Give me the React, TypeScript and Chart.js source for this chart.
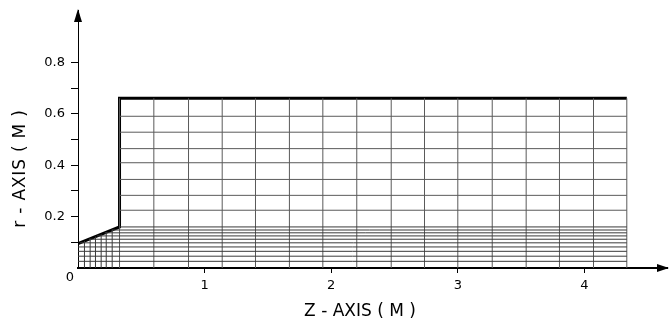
import React, { useEffect, useRef } from 'react';
import { Chart, registerables } from 'chart.js';

Chart.register(...registerables);

// Mesh node positions (metres)
const zInletNodes = [0.051, 0.096, 0.138, 0.183, 0.223, 0.27];
const zMainNodes = [0.328, 0.599, 0.873, 1.139, 1.402, 1.67, 1.934, 2.202, 2.474, 2.737, 3.0, 3.272, 3.54, 3.803, 4.072, 4.335];
const rLowerNodes = [0.026, 0.046, 0.065, 0.082, 0.098, 0.112, 0.125, 0.137, 0.148, 0.16];
const rUpperNodes = [0.225, 0.283, 0.345, 0.41, 0.465, 0.529, 0.591];
// Outer (thick) boundary
const boundaryZ = [0, 0.328, 0.328, 4.335];
const boundaryR = [0.095, 0.16, 0.661, 0.661];
// Axes
const xTickValues = [1, 2, 3, 4];
const yTickValues = [0.1, 0.2, 0.3, 0.4, 0.5, 0.6, 0.7, 0.8];
const yTickLabels = ['0.2', '0.4', '0.6', '0.8'];
const xTitle = 'Z - AXIS ( M )';
const yTitle = 'r - AXIS ( M )';
const originLabel = '0';

const FONT = "'DejaVu Sans', sans-serif";

export default function App() {
  const ref = useRef<HTMLCanvasElement>(null);

  useEffect(() => {
    const canvas = ref.current;
    if (!canvas) return;

    const slantR = (z: number) =>
      boundaryR[0] + ((boundaryR[1] - boundaryR[0]) * (z - boundaryZ[0])) / (boundaryZ[1] - boundaryZ[0]);
    const slantZ = (r: number) =>
      boundaryZ[0] + ((r - boundaryR[0]) / (boundaryR[1] - boundaryR[0])) * (boundaryZ[1] - boundaryZ[0]);
    const zEnd = zMainNodes[zMainNodes.length - 1];
    const rTop = boundaryR[boundaryR.length - 1];

    const datasets: any[] = [];
    const seg = (pts: { x: number; y: number }[], color: string, width: number) =>
      datasets.push({
        data: pts,
        borderColor: color,
        borderWidth: width,
        pointRadius: 0,
        showLine: true,
        fill: false,
        tension: 0,
      });

    rLowerNodes.forEach((r) =>
      seg([{ x: r <= boundaryR[0] ? 0 : slantZ(r), y: r }, { x: zEnd, y: r }], '#3a3a3a', 1)
    );
    rUpperNodes.forEach((r) => seg([{ x: boundaryZ[1], y: r }, { x: zEnd, y: r }], '#5a5a5a', 1));
    zInletNodes.forEach((z) => seg([{ x: z, y: 0 }, { x: z, y: slantR(z) }], '#3a3a3a', 1));
    zMainNodes.forEach((z) => seg([{ x: z, y: 0 }, { x: z, y: rTop }], '#5a5a5a', 1));
    seg(boundaryZ.map((z, i) => ({ x: z, y: boundaryR[i] })), '#000', 3);

    const decor = {
      id: 'decor',
      afterDraw(chart: any) {
        const ctx = chart.ctx;
        const xs = chart.scales.x;
        const ys = chart.scales.y;
        const x0 = xs.getPixelForValue(0);
        const y0 = ys.getPixelForValue(0);
        const top = chart.chartArea.top;
        const right = chart.chartArea.right;
        ctx.save();
        ctx.strokeStyle = '#000';
        ctx.fillStyle = '#000';
        // x axis extension + arrow
        ctx.lineWidth = 2;
        ctx.beginPath();
        ctx.moveTo(right, y0);
        ctx.lineTo(668, y0);
        ctx.stroke();
        ctx.beginPath();
        ctx.moveTo(669, y0);
        ctx.lineTo(657, y0 - 4);
        ctx.lineTo(657, y0 + 4);
        ctx.closePath();
        ctx.fill();
        // y axis arrow
        ctx.beginPath();
        ctx.moveTo(x0, top - 1);
        ctx.lineTo(x0 - 4, top + 12);
        ctx.lineTo(x0 + 4, top + 12);
        ctx.closePath();
        ctx.fill();
        // titles
        ctx.textAlign = 'center';
        ctx.textBaseline = 'middle';
        ctx.font = `17px ${FONT}`;
        ctx.fillText(xTitle, 360, 311.5);
        ctx.save();
        ctx.translate(21, 168.5);
        ctx.rotate(-Math.PI / 2);
        ctx.font = `17px ${FONT}`;
        try {
          (ctx as any).letterSpacing = '0.8px';
        } catch (e) {}
        ctx.fillText(yTitle, 0, 0);
        ctx.restore();
        ctx.font = `13px ${FONT}`;
        ctx.fillText(originLabel, x0 - 8, y0 + 10);
        ctx.restore();
      },
    };

    const chart = new Chart(canvas, {
      type: 'scatter',
      data: { datasets },
      options: {
        animation: false,
        responsive: false,
        devicePixelRatio: 1,
        layout: { padding: { top: 10, left: 0, right: 30, bottom: 0 } },
        plugins: { legend: { display: false }, tooltip: { enabled: false } },
        scales: {
          x: {
            type: 'linear',
            min: 0,
            max: 4.455,
            afterBuildTicks: (s: any) => {
              s.ticks = xTickValues.map((v) => ({ value: v }));
            },
            afterFit: (s: any) => {
              s.height = 52;
              s.paddingLeft = 0;
              s.paddingRight = 0;
            },
            grid: { drawOnChartArea: false, drawTicks: true, tickLength: 5, color: '#000', tickWidth: 1 },
            border: { display: true, color: '#000', width: 2 },
            ticks: {
              color: '#000',
              padding: 5,
              maxRotation: 0,
              autoSkip: false,
              font: { family: FONT, size: 13 },
              callback: (v: any) => String(v),
            },
          },
          y: {
            type: 'linear',
            min: 0,
            max: 1.005,
            afterBuildTicks: (s: any) => {
              s.ticks = yTickValues.map((v) => ({ value: v }));
            },
            afterFit: (s: any) => {
              s.width = 78;
              s.paddingTop = 0;
              s.paddingBottom = 0;
            },
            grid: { drawOnChartArea: false, drawTicks: true, tickLength: 7, color: '#000', tickWidth: 1 },
            border: { display: true, color: '#000', width: 1 },
            ticks: {
              color: '#000',
              padding: 6,
              autoSkip: false,
              font: { family: FONT, size: 13 },
              callback: (v: any) => {
                const s = Number(v).toFixed(1);
                return yTickLabels.includes(s) ? s : '';
              },
            },
          },
        },
      },
      plugins: [decor],
    });

    return () => chart.destroy();
  }, []);

  return (
    <div style={{ position: 'fixed', left: 0, top: 0, width: 672, height: 320, background: '#fff' }}>
      <canvas ref={ref} width={672} height={320} style={{ display: 'block' }} />
    </div>
  );
}
